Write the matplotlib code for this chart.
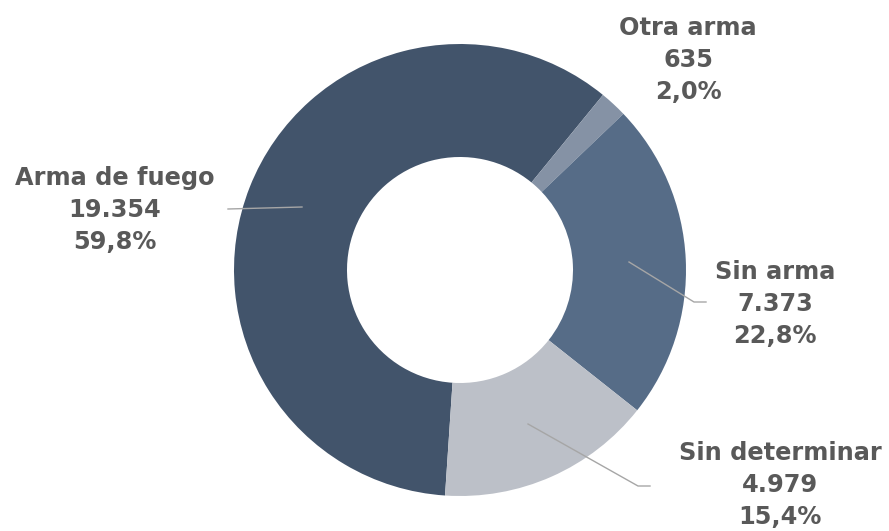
import matplotlib.pyplot as plt

# data (clockwise from bottom)
labels = ["Arma de fuego", "Otra arma", "Sin arma", "Sin determinar"]
counts = [19354, 635, 7373, 4979]
count_text = ["19.354", "635", "7.373", "4.979"]
pct_text = ["59,8%", "2,0%", "22,8%", "15,4%"]
colors = ["#42546B", "#8592A5", "#566C87", "#BCC0C8"]

W, H = 889, 531
fig = plt.figure(figsize=(W / 100, H / 100), dpi=100)
ax = fig.add_axes([0, 0, 1, 1])

cx, cy, r = 460, H - 270, 226
ax.pie(counts, colors=colors, startangle=-93.8, counterclock=False,
       center=(cx, cy), radius=r, frame=True,
       wedgeprops=dict(width=r * 0.5, linewidth=0))
ax.set_xlim(0, W)
ax.set_ylim(0, H)
ax.set_aspect("equal")
ax.axis("off")

# label positions (image px) and leader lines
text_pos = [(115, 210), (688, 60), (775, 304), (780, 485)]
leaders = [
    [(302, 207), (228, 209)],
    None,
    [(629, 262), (694, 302), (706, 302)],
    [(528, 424), (638, 486), (650, 486)],
]

for i, lab in enumerate(labels):
    x, y = text_pos[i]
    ax.text(x, H - y, f"{lab}\n{count_text[i]}\n{pct_text[i]}",
            ha="center", va="center", fontsize=17.3, fontweight="bold",
            color="#595959", linespacing=1.44, family="DejaVu Sans")
    if leaders[i]:
        xs = [p[0] for p in leaders[i]]
        ys = [H - p[1] for p in leaders[i]]
        ax.plot(xs, ys, color="#A6A6A6", lw=1)

fig.savefig("out.png", dpi=100)
